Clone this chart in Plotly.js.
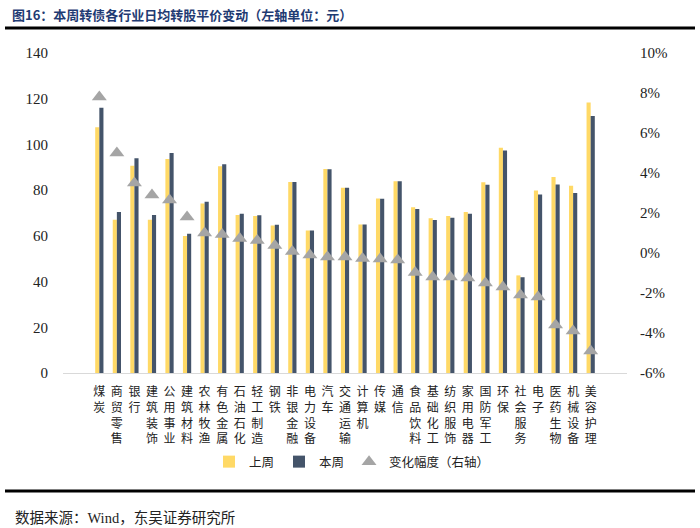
<!DOCTYPE html>
<html>
<head>
<meta charset="utf-8">
<script src="https://cdn.plot.ly/plotly-3.0.1.min.js"></script>
<style>html,body{margin:0;padding:0;background:#fff;}#chart{width:700px;height:528px;}</style>
</head>
<body>
<div id="chart"></div>
<script>
const categories = ["煤炭","商贸零售","银行","建筑装饰","公用事业","建筑材料","农林牧渔","有色金属","石油石化","轻工制造","钢铁","非银金融","电力设备","汽车","交通运输","计算机","传媒","通信","食品饮料","基础化工","纺织服饰","家用电器","国防军工","环保","社会服务","电子","医药生物","机械设备","美容护理"];
const lastWeek = [107.5,67.0,90.7,67.0,93.6,59.9,74.2,90.4,69.1,68.7,64.5,83.6,62.3,89.2,81.1,65.0,76.3,83.9,72.5,67.7,68.7,70.4,83.4,98.6,42.7,79.8,85.7,81.9,118.3];
const thisWeek = [116.1,70.4,93.9,69.1,96.3,60.9,74.9,91.3,69.7,69.0,64.9,83.6,62.3,89.1,81.0,65.0,76.2,83.9,71.8,66.9,67.9,69.7,82.4,97.3,41.9,78.1,82.5,78.7,112.4];
const change = [0.078,0.050,0.035,0.029,0.0265,0.018,0.010,0.0093,0.0073,0.0063,0.0037,0.0008,-0.001,-0.002,-0.002,-0.0027,-0.003,-0.0035,-0.0097,-0.012,-0.012,-0.0125,-0.015,-0.017,-0.021,-0.022,-0.036,-0.039,-0.049];
const leftTicks = [0,20,40,60,80,100,120,140];
const rightTicks = [-0.06,-0.04,-0.02,0,0.02,0.04,0.06,0.08,0.10];
const rightTickText = ["-6%","-4%","-2%","0%","2%","4%","6%","8%","10%"];

const vertLabels = categories.map(c => c.split("").join("<br>"));

const cjk = '"Noto Sans CJK SC", sans-serif';
const serif = '"Liberation Serif", "Times New Roman", serif';

const traces = [
  {type:'bar', name:'上周', x:vertLabels, y:lastWeek, marker:{color:'#FFD966'}},
  {type:'bar', name:'本周', x:vertLabels, y:thisWeek, marker:{color:'#44546A'}},
  {type:'scatter', mode:'markers', name:'变化幅度（右轴）', x:vertLabels, y:change, yaxis:'y2',
   marker:{symbol:'triangle-up', size:13, color:'#A5A5A5'}}
];

const L=63, R=627, T=53, B=373;
const px = x => (x-L)/(R-L);
const py = y => (B-y)/(B-T);

const layout = {
  width:700, height:528,
  margin:{l:L, r:700-R, t:T, b:528-B},
  paper_bgcolor:'#fff', plot_bgcolor:'#fff',
  barmode:'group', bargap:0.53, bargroupgap:0,
  showlegend:true,
  legend:{orientation:'h', x:px(352), xanchor:'center', y:py(462), yanchor:'middle',
          font:{family:cjk, size:12.5, color:'#222'}, traceorder:'normal', itemwidth:30, tracegroupgap:0},
  xaxis:{type:'category', showgrid:false, zeroline:false, showline:true, linecolor:'#D9D9D9', linewidth:1,
         ticks:'', tickangle:0, tickfont:{family:cjk, size:12, color:'#222'}, ticklabelstandoff:8, fixedrange:true},
  yaxis:{range:[0,140], tickvals:leftTicks, showgrid:false, zeroline:false, showline:false, ticks:'',
         tickfont:{family:serif, size:15, color:'#222'}, ticklabelstandoff:14},
  yaxis2:{overlaying:'y', side:'right', range:[-0.06,0.10], tickvals:rightTicks, ticktext:rightTickText,
          showgrid:false, zeroline:false, showline:false, ticks:'',
          tickfont:{family:serif, size:15, color:'#222'}, ticklabelstandoff:12},
  shapes:[
    {type:'line', xref:'paper', yref:'paper', x0:px(5), x1:px(695), y0:py(28), y1:py(28), line:{color:'#000', width:3}},
    {type:'line', xref:'paper', yref:'paper', x0:px(5), x1:px(695), y0:py(491), y1:py(491), line:{color:'#000', width:3}}
  ],
  annotations:[
    {xref:'paper', yref:'paper', x:px(10), y:py(14), xanchor:'left', yanchor:'middle', showarrow:false,
     text:'<b>图16：本周转债各行业日均转股平价变动（左轴单位：元）</b>', font:{family:cjk, size:13, color:'#1F3B73'}},
    {xref:'paper', yref:'paper', x:px(14), y:py(516), xanchor:'left', yanchor:'middle', showarrow:false, borderpad:0,
     text:'数据来源：<span style="font-family:\'Liberation Serif\'">Wind</span>，东吴证券研究所', font:{family:cjk, size:14.5, color:'#222'}}
  ]
};

Plotly.newPlot('chart', traces, layout, {displayModeBar:false, staticPlot:true});
</script>
</body>
</html>
